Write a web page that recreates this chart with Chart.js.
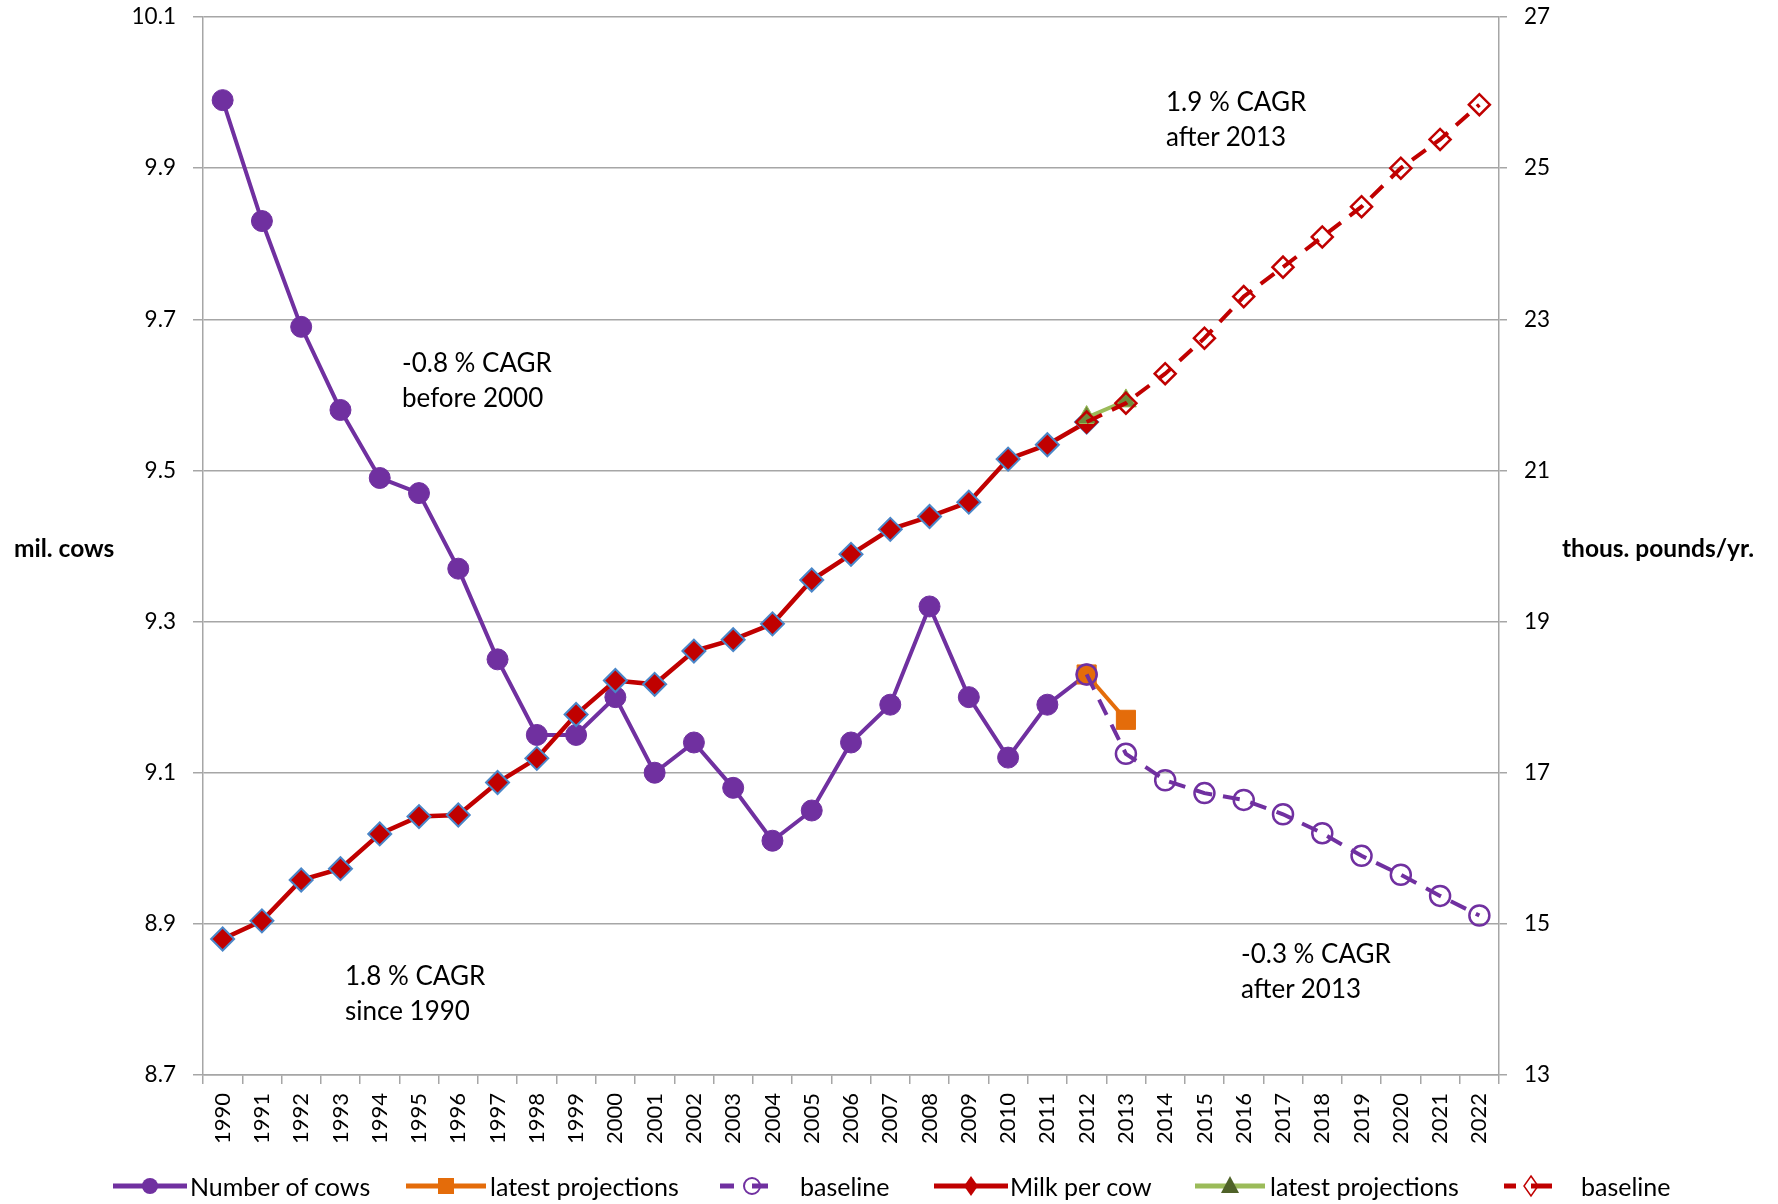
<!DOCTYPE html>
<html>
<head>
<meta charset="utf-8">
<script src="https://cdn.jsdelivr.net/npm/chart.js@4.4.0/dist/chart.umd.min.js"></script>
<style>
html, body { margin: 0; padding: 0; background: #fff; }
#wrap { position: relative; width: 1778px; height: 1204px; font-family: Lato, "Open Sans", sans-serif; color: #000; overflow: hidden; }
#c { position: absolute; left: 0; top: 0; }
.note { position: absolute; font-size: 26px; line-height: 35px; white-space: nowrap; }
.atitle { position: absolute; font-size: 24.5px; font-weight: bold; line-height: 30px; white-space: nowrap; }
.legtext { position: absolute; top: 1171px; height: 30px; font-size: 25px; line-height: 30px; white-space: nowrap; }
.legicon { position: absolute; top: 1171px; }
</style>
</head>
<body>
<div id="wrap">
  <canvas id="c" width="1778" height="1204"></canvas>
  <div class="atitle" style="left:14px; top:533px;">mil. cows</div>
  <div class="atitle" style="left:1562px; top:533px;">thous. pounds/yr.</div>
  <div class="note" style="left:402px; top:345px;">-0.8&nbsp;% CAGR<br>before 2000</div>
  <div class="note" style="left:345px; top:958px;">1.8&nbsp;% CAGR<br>since 1990</div>
  <div class="note" style="left:1166px; top:84px;">1.9&nbsp;% CAGR<br>after 2013</div>
  <div class="note" style="left:1241px; top:936px;">-0.3&nbsp;% CAGR<br>after 2013</div>
  <div id="legend"></div>
</div>
<script>
// ---------- data ----------
const years = ['1990','1991','1992','1993','1994','1995','1996','1997','1998','1999',
               '2000','2001','2002','2003','2004','2005','2006','2007','2008','2009',
               '2010','2011','2012','2013','2014','2015','2016','2017','2018','2019',
               '2020','2021','2022'];

const cowsActual = [9.99, 9.83, 9.69, 9.58, 9.49, 9.47, 9.37, 9.25, 9.15, 9.15,
                    9.20, 9.10, 9.14, 9.08, 9.01, 9.05, 9.14, 9.19, 9.32, 9.20,
                    9.12, 9.19, 9.23, null, null, null, null, null, null, null,
                    null, null, null];
const cowsLatest = [null, null, null, null, null, null, null, null, null, null,
                    null, null, null, null, null, null, null, null, null, null,
                    null, null, 9.23, 9.17, null, null, null, null, null, null,
                    null, null, null];
const cowsBaseline = [null, null, null, null, null, null, null, null, null, null,
                      null, null, null, null, null, null, null, null, null, null,
                      null, null, 9.23, 9.125, 9.09, 9.073, 9.064, 9.045, 9.02, 8.99,
                      8.965, 8.937, 8.911];

const milkActual = [14.80, 15.04, 15.58, 15.73, 16.19, 16.42, 16.44, 16.87, 17.19, 17.77,
                    18.22, 18.17, 18.61, 18.76, 18.97, 19.55, 19.89, 20.22, 20.39, 20.58,
                    21.15, 21.34, 21.64, null, null, null, null, null, null, null,
                    null, null, null];
const milkLatest = [null, null, null, null, null, null, null, null, null, null,
                    null, null, null, null, null, null, null, null, null, null,
                    null, null, 21.70, 21.92, null, null, null, null, null, null,
                    null, null, null];
const milkBaseline = [null, null, null, null, null, null, null, null, null, null,
                      null, null, null, null, null, null, null, null, null, null,
                      null, null, 21.64, 21.89, 22.28, 22.75, 23.30, 23.69, 24.09, 24.49,
                      25.00, 25.38, 25.84];

const seriesNames = ['Number of cows', 'latest projections', 'baseline',
                     'Milk per cow', 'latest projections', 'baseline'];

const cowsTicks = { min: 8.7, max: 10.1, step: 0.2 };
const milkTicks = { min: 13, max: 27, step: 2 };

// ---------- styles ----------
const PURPLE = '#7030A0';
const ORANGE = '#E46C0A';
const RED = '#C00000';
const GREEN_LINE = '#9BBB59';
const GREEN_MARK = '#6E8B3A';
const BLUE_EDGE = '#4A86C8';
const GRID = '#A6A6A6';
const DASH = [17, 11];

Chart.defaults.font.family = 'Lato, "Open Sans", sans-serif';
Chart.defaults.color = '#000';

const datasets = [
  { label: seriesNames[0], data: cowsActual, yAxisID: 'y', order: 6,
    borderColor: PURPLE, borderWidth: 4, pointStyle: 'circle', pointRadius: 10.5,
    pointBackgroundColor: PURPLE, pointBorderColor: PURPLE, pointBorderWidth: 1 },
  { label: seriesNames[1], data: cowsLatest, yAxisID: 'y', order: 5,
    borderColor: ORANGE, borderWidth: 4, pointStyle: 'rect', pointRadius: 13.5,
    pointBackgroundColor: ORANGE, pointBorderColor: ORANGE, pointBorderWidth: 1 },
  { label: seriesNames[2], data: cowsBaseline, yAxisID: 'y', order: 4,
    borderColor: PURPLE, borderWidth: 4, borderDash: DASH, pointStyle: 'circle', pointRadius: 10,
    pointBackgroundColor: 'rgba(255,255,255,0)', pointBorderColor: PURPLE, pointBorderWidth: 2.5 },
  { label: seriesNames[3], data: milkActual, yAxisID: 'y1', order: 3,
    borderColor: RED, borderWidth: 4.5, pointStyle: 'rectRot', pointRadius: 11.5,
    pointBackgroundColor: RED, pointBorderColor: BLUE_EDGE, pointBorderWidth: 2 },
  { label: seriesNames[4], data: milkLatest, yAxisID: 'y1', order: 2,
    borderColor: GREEN_LINE, borderWidth: 4, pointStyle: 'triangle', pointRadius: 12,
    pointBackgroundColor: GREEN_MARK, pointBorderColor: GREEN_LINE, pointBorderWidth: 1 },
  { label: seriesNames[5], data: milkBaseline, yAxisID: 'y1', order: 1,
    borderColor: RED, borderWidth: 4, borderDash: DASH, pointStyle: 'rectRot', pointRadius: 10.5,
    pointBackgroundColor: 'rgba(255,255,255,0)', pointBorderColor: RED, pointBorderWidth: 2.5 }
];
datasets.forEach(d => { d.tension = 0; d.fill = false; d.spanGaps = false; });

function fixVertical(width) {
  return s => { s.width = width; s.paddingTop = 0; s.paddingBottom = 0; };
}

new Chart(document.getElementById('c'), {
  type: 'line',
  data: { labels: years, datasets: datasets },
  options: {
    responsive: false,
    animation: false,
    devicePixelRatio: 1,
    events: [],
    layout: { padding: { left: 0, right: 0, top: 17, bottom: 39 } },
    plugins: { legend: { display: false }, tooltip: { enabled: false } },
    scales: {
      x: {
        offset: true,
        grid: { offset: true, drawOnChartArea: false, drawTicks: true, tickLength: 9, color: GRID, lineWidth: 1.5 },
        border: { color: GRID, width: 1.5 },
        ticks: { autoSkip: false, minRotation: 90, maxRotation: 90, padding: 9, font: { size: 22 }, color: '#000' },
        afterFit: s => { s.height = 90; s.paddingLeft = 0; s.paddingRight = 0; }
      },
      y: {
        position: 'left',
        min: cowsTicks.min, max: cowsTicks.max,
        ticks: { stepSize: cowsTicks.step, padding: 17, font: { size: 22.5 }, color: '#000',
                 callback: v => Number(v).toFixed(1) },
        grid: { color: GRID, lineWidth: 1.5, tickLength: 10 },
        border: { color: GRID, width: 1.5 },
        afterFit: fixVertical(203)
      },
      y1: {
        position: 'right',
        min: milkTicks.min, max: milkTicks.max,
        ticks: { stepSize: milkTicks.step, padding: 17, font: { size: 22.5 }, color: '#000',
                 callback: v => String(Math.round(v)) },
        grid: { drawOnChartArea: false, color: GRID, lineWidth: 1.5, tickLength: 8 },
        border: { color: GRID, width: 1.5 },
        afterFit: fixVertical(279)
      }
    }
  }
});

// ---------- legend (HTML, icons drawn on small canvases) ----------
const legendItems = [
  { icon: 'cows',      iconLeft: 113,  iconW: 74, textLeft: 190 },
  { icon: 'orange',    iconLeft: 406,  iconW: 80, textLeft: 490 },
  { icon: 'cowsBase',  iconLeft: 720,  iconW: 56, textLeft: 800 },
  { icon: 'milk',      iconLeft: 934,  iconW: 74, textLeft: 1010 },
  { icon: 'green',     iconLeft: 1195, iconW: 70, textLeft: 1270 },
  { icon: 'milkBase',  iconLeft: 1504, iconW: 52, textLeft: 1581 }
];

function drawIcon(cv, kind) {
  const ctx = cv.getContext('2d');
  const w = cv.width, cy = cv.height / 2, cx = w / 2;
  ctx.lineCap = 'butt';
  function line(color, x0, x1, lw) {
    ctx.strokeStyle = color; ctx.lineWidth = lw;
    ctx.beginPath(); ctx.moveTo(x0, cy); ctx.lineTo(x1, cy); ctx.stroke();
  }
  if (kind === 'cows') {
    line(PURPLE, 0, w, 5);
    ctx.fillStyle = PURPLE; ctx.beginPath(); ctx.arc(cx, cy, 8, 0, Math.PI * 2); ctx.fill();
  } else if (kind === 'orange') {
    line(ORANGE, 0, w, 5);
    ctx.fillStyle = ORANGE; ctx.fillRect(cx - 8, cy - 8, 16, 16);
  } else if (kind === 'cowsBase') {
    line(PURPLE, 0, 14, 5);
    line(PURPLE, 32, 48, 5);
    ctx.strokeStyle = PURPLE; ctx.lineWidth = 2;
    ctx.beginPath(); ctx.arc(32, cy, 8, 0, Math.PI * 2); ctx.stroke();
  } else if (kind === 'milk') {
    line(RED, 0, w, 5);
    ctx.fillStyle = RED;
    ctx.beginPath(); ctx.moveTo(cx, cy - 10); ctx.lineTo(cx + 7, cy); ctx.lineTo(cx, cy + 10); ctx.lineTo(cx - 7, cy); ctx.closePath();
    ctx.fill();
  } else if (kind === 'green') {
    line(GREEN_LINE, 0, w, 5);
    ctx.fillStyle = '#4F6228';
    ctx.beginPath(); ctx.moveTo(cx, cy - 10); ctx.lineTo(cx + 9, cy + 7); ctx.lineTo(cx - 9, cy + 7); ctx.closePath(); ctx.fill();
  } else if (kind === 'milkBase') {
    line(RED, 0, 12, 5);
    line(RED, 27, 48, 5);
    ctx.strokeStyle = RED; ctx.lineWidth = 1.5;
    ctx.beginPath(); ctx.moveTo(27, cy - 10); ctx.lineTo(34, cy); ctx.lineTo(27, cy + 10); ctx.lineTo(20, cy); ctx.closePath();
    ctx.stroke();
  }
}

const legendEl = document.getElementById('legend');
legendItems.forEach((it, i) => {
  const cv = document.createElement('canvas');
  cv.width = it.iconW; cv.height = 30;
  cv.className = 'legicon';
  cv.style.left = it.iconLeft + 'px';
  drawIcon(cv, it.icon);
  legendEl.appendChild(cv);
  const t = document.createElement('div');
  t.className = 'legtext';
  t.style.left = it.textLeft + 'px';
  t.textContent = seriesNames[i];
  legendEl.appendChild(t);
});
</script>
</body>
</html>
